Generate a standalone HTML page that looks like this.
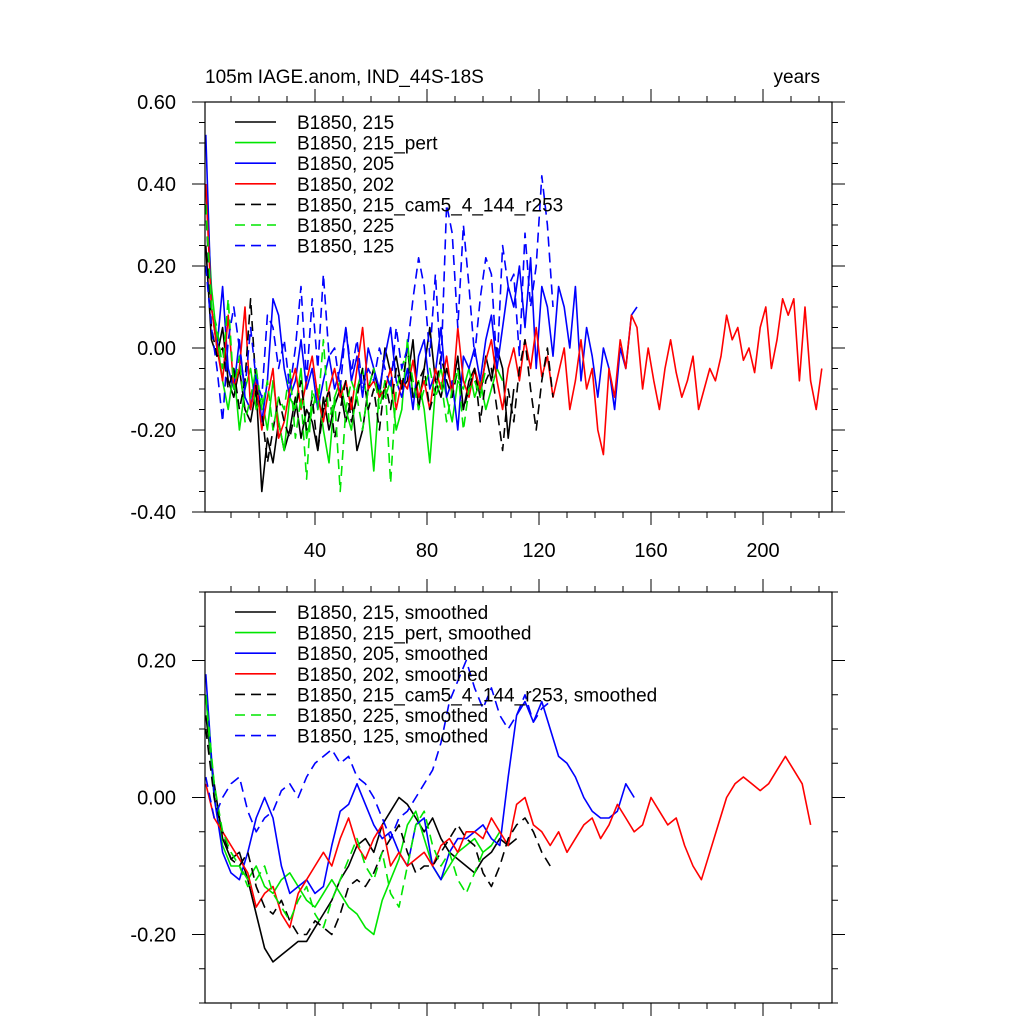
<!DOCTYPE html>
<html><head><meta charset="utf-8"><style>
body{margin:0;background:#fff}
svg text{font-family:"Liberation Sans",sans-serif;fill:#000}
</style></head><body>
<svg id="c" width="1024" height="1024" viewBox="0 0 1024 1024">
<text x="205" y="83" font-size="19">105m IAGE.anom, IND_44S-18S</text>
<text x="820" y="83" font-size="19" text-anchor="end">years</text>
</svg>
<script>
// ---- data: top panel (annual anomalies, sampled every 2 years) ----
const topStep = 2;
const topBlack = [0.25,0.02,-0.02,0.05,-0.08,-0.12,-0.05,-0.15,-0.18,-0.1,-0.35,-0.22,-0.28,-0.18,-0.25,-0.2,-0.12,-0.22,-0.15,-0.18,-0.25,-0.12,-0.2,-0.14,-0.1,-0.18,-0.12,-0.25,-0.2,-0.1,-0.05,-0.12,0.0,-0.06,-0.02,-0.1,-0.08,0.02,-0.15,-0.05,0.05,-0.08,-0.12,-0.05,-0.1,-0.02,-0.15,-0.08,-0.05,-0.12,-0.02,-0.08,0.0,-0.05,-0.22,-0.1];
const topGreen = [0.4,0.15,0.02,-0.08,-0.15,-0.05,-0.2,-0.1,-0.05,-0.15,-0.12,-0.2,-0.08,-0.18,-0.25,-0.12,-0.15,-0.05,-0.22,-0.15,-0.1,-0.2,-0.28,-0.12,-0.08,-0.15,-0.2,-0.1,-0.05,-0.15,-0.3,-0.1,-0.12,-0.08,-0.2,-0.15,0.02,-0.12,-0.08,-0.15,-0.28,-0.1,-0.05,-0.12,-0.18,-0.08,-0.1,-0.05,-0.12,-0.08,-0.15,-0.1,-0.05,-0.08];
const topBlue = [0.52,0.1,0.0,0.15,-0.05,-0.1,0.02,-0.12,-0.15,-0.05,-0.18,-0.08,0.12,0.08,-0.05,-0.12,-0.08,0.02,-0.1,-0.05,-0.15,-0.08,-0.02,-0.1,-0.05,0.05,-0.08,-0.02,-0.12,0.0,-0.05,-0.1,-0.02,0.05,-0.08,-0.12,-0.05,-0.15,-0.02,0.02,-0.1,-0.06,0.05,-0.12,-0.08,-0.2,-0.02,-0.05,0.0,-0.08,0.02,0.08,-0.05,0.05,0.15,0.1,0.2,0.05,0.22,-0.05,0.15,0.1,-0.02,0.15,0.1,0.0,0.15,-0.08,0.05,-0.02,-0.12,0.0,-0.05,-0.15,0.0,-0.05,0.08,0.1];
const topRed = [0.4,0.1,0.0,-0.08,0.08,-0.1,-0.05,0.1,-0.15,-0.08,-0.2,-0.12,-0.05,-0.22,-0.18,-0.1,-0.05,-0.15,-0.08,-0.02,-0.12,-0.18,-0.1,-0.05,-0.12,-0.08,-0.15,-0.05,0.05,-0.1,-0.08,-0.12,-0.1,-0.05,-0.15,-0.08,-0.1,-0.03,-0.12,-0.08,-0.15,-0.05,-0.1,-0.02,-0.12,0.05,-0.08,-0.12,-0.05,-0.1,-0.03,0.02,-0.08,-0.15,-0.05,0.0,-0.08,0.02,-0.05,0.05,-0.07,-0.02,-0.12,-0.06,0.0,-0.15,-0.08,0.02,-0.1,-0.05,-0.2,-0.26,-0.05,-0.12,0.02,-0.05,0.08,0.05,-0.1,0.0,-0.08,-0.15,-0.05,0.02,-0.06,-0.12,-0.08,-0.02,-0.15,-0.1,-0.05,-0.08,-0.02,0.08,0.02,0.05,-0.03,0.0,-0.06,0.05,0.1,-0.05,0.02,0.12,0.08,0.12,-0.08,0.1,-0.08,-0.15,-0.05];
const topBlackD = [0.35,0.05,-0.02,0.0,-0.1,-0.05,-0.15,-0.08,0.12,-0.1,-0.15,-0.28,-0.2,-0.12,-0.18,-0.22,-0.15,-0.08,-0.2,-0.12,-0.25,-0.15,-0.1,-0.22,-0.15,-0.08,-0.18,-0.12,-0.05,-0.15,-0.1,-0.2,-0.08,-0.15,-0.05,-0.1,0.0,-0.12,-0.08,-0.05,-0.15,-0.1,-0.02,-0.08,-0.12,-0.05,-0.15,-0.1,-0.05,-0.18,-0.08,-0.05,-0.15,-0.25,-0.1,-0.18,-0.05,0.02,-0.1,-0.2,-0.08,0.0,-0.12];
const topGreenD = [0.35,0.1,0.05,-0.05,0.12,-0.1,-0.02,-0.18,-0.12,-0.05,-0.15,-0.08,-0.2,-0.12,-0.15,-0.05,-0.22,-0.12,-0.32,-0.1,-0.15,0.02,-0.18,-0.12,-0.35,-0.15,-0.08,-0.12,-0.2,-0.1,-0.05,-0.15,-0.08,-0.33,-0.1,-0.05,0.0,-0.08,-0.15,-0.1,-0.05,-0.12,-0.08,-0.18,-0.1,-0.05,-0.2,-0.1,-0.08,-0.12,-0.05];
const topBlueD = [0.2,0.05,-0.05,-0.18,0.02,0.1,0.0,-0.1,0.05,-0.08,-0.12,0.08,0.05,-0.05,0.02,-0.1,0.0,0.15,-0.08,0.12,-0.05,0.18,-0.02,0.0,-0.1,0.05,-0.06,0.02,-0.1,-0.05,-0.08,0.0,-0.05,-0.1,0.05,-0.05,0.0,0.12,0.22,0.15,-0.02,0.18,-0.05,0.35,0.28,0.05,0.3,0.15,-0.02,0.12,0.22,0.18,-0.05,0.25,0.15,0.18,-0.02,0.28,0.1,0.2,0.42,0.3,0.1];
// ---- data: bottom panel (smoothed, sampled every 3 years) ----
const botStep = 3;
const botBlack = [0.12,0.02,-0.06,-0.09,-0.08,-0.12,-0.17,-0.22,-0.24,-0.23,-0.22,-0.21,-0.21,-0.19,-0.17,-0.15,-0.12,-0.1,-0.07,-0.06,-0.08,-0.04,-0.02,0.0,-0.01,-0.03,-0.05,-0.03,-0.06,-0.08,-0.09,-0.1,-0.11,-0.09,-0.08,-0.06,-0.07,-0.06];
const botGreen = [0.15,0.0,-0.07,-0.1,-0.1,-0.12,-0.1,-0.13,-0.14,-0.12,-0.11,-0.13,-0.15,-0.16,-0.14,-0.12,-0.14,-0.16,-0.17,-0.19,-0.2,-0.15,-0.12,-0.09,-0.04,-0.02,-0.06,-0.1,-0.12,-0.1,-0.08,-0.07,-0.06,-0.08,-0.07,-0.05];
const botBlue = [0.18,0.0,-0.08,-0.11,-0.12,-0.08,-0.03,0.0,-0.03,-0.1,-0.14,-0.13,-0.12,-0.14,-0.13,-0.07,-0.02,-0.01,0.02,-0.01,-0.04,-0.06,-0.05,-0.08,-0.1,-0.04,-0.03,-0.1,-0.12,-0.08,-0.06,-0.06,-0.05,-0.04,-0.06,-0.07,0.03,0.12,0.14,0.11,0.14,0.1,0.06,0.05,0.03,0.0,-0.02,-0.03,-0.03,-0.02,0.02,0.0];
const botRed = [0.02,-0.03,-0.05,-0.07,-0.09,-0.11,-0.16,-0.14,-0.13,-0.17,-0.19,-0.14,-0.12,-0.1,-0.08,-0.1,-0.06,-0.03,-0.07,-0.09,-0.06,-0.04,-0.1,-0.08,-0.1,-0.09,-0.08,-0.1,-0.07,-0.06,-0.08,-0.05,-0.05,-0.06,-0.03,-0.05,-0.07,-0.01,0.0,-0.04,-0.05,-0.07,-0.05,-0.08,-0.06,-0.04,-0.03,-0.06,-0.04,-0.01,-0.03,-0.05,-0.04,0.0,-0.02,-0.04,-0.03,-0.07,-0.1,-0.12,-0.08,-0.04,0.0,0.02,0.03,0.02,0.01,0.02,0.04,0.06,0.04,0.02,-0.04];
const botBlackD = [0.1,0.0,-0.05,-0.09,-0.1,-0.08,-0.13,-0.16,-0.17,-0.15,-0.18,-0.2,-0.2,-0.18,-0.19,-0.2,-0.17,-0.13,-0.12,-0.13,-0.11,-0.08,-0.06,-0.04,-0.08,-0.11,-0.1,-0.1,-0.08,-0.06,-0.04,-0.06,-0.07,-0.11,-0.13,-0.1,-0.06,-0.04,-0.03,-0.05,-0.08,-0.1];
const botGreenD = [0.15,0.02,-0.05,-0.08,-0.1,-0.13,-0.12,-0.1,-0.14,-0.16,-0.18,-0.15,-0.13,-0.17,-0.19,-0.15,-0.12,-0.09,-0.06,-0.1,-0.12,-0.08,-0.14,-0.16,-0.1,-0.04,-0.02,-0.07,-0.1,-0.08,-0.12,-0.14,-0.11,-0.08,-0.07];
const botBlueD = [0.03,-0.03,0.0,0.02,0.03,-0.02,-0.05,-0.03,-0.02,0.01,0.02,0.0,0.03,0.05,0.06,0.07,0.05,0.06,0.03,0.02,0.0,-0.03,-0.06,-0.03,-0.02,0.0,0.02,0.04,0.08,0.14,0.17,0.2,0.16,0.13,0.16,0.12,0.1,0.12,0.15,0.11,0.13,0.14];
// ---- ticks & labels ----
const xTickLabels = [40,80,120,160,200];
const topYTicks = [0.6,0.4,0.2,0.0,-0.2,-0.4];
const botYTicks = [0.2,0.0,-0.2];
const topLegend = ["B1850, 215","B1850, 215_pert","B1850, 205","B1850, 202","B1850, 215_cam5_4_144_r253","B1850, 225","B1850, 125"];
const botLegend = ["B1850, 215, smoothed","B1850, 215_pert, smoothed","B1850, 205, smoothed","B1850, 202, smoothed","B1850, 215_cam5_4_144_r253, smoothed","B1850, 225, smoothed","B1850, 125, smoothed"];

const svg = document.getElementById('c');
const NS = 'http://www.w3.org/2000/svg';
const colors = ['#000','#00e600','#0000ff','#ff0000','#000','#00e600','#0000ff'];
const dashes = [null,null,null,null,'10 6','10 6','10 6'];
const L = 205, R = 832;
const xs = v => 203 + v * 2.8;
function mk(tag, attrs, parent){const e=document.createElementNS(NS,tag);for(const k in attrs)e.setAttribute(k,attrs[k]);(parent||svg).appendChild(e);return e;}

function panel(name, top, bot, yMin, yMax, yTicks, series, step, legend, showX){
  const ys = v => bot - (v - yMin) / (yMax - yMin) * (bot - top);
  const g = mk('g', {});
  
  
  const clipId = name + '-clip';
  const cp = mk('clipPath', {id: clipId}, g);
  mk('rect', {x: L, y: top, width: R - L, height: bot - top}, cp);
  const lines = mk('g', {'clip-path': 'url(#' + clipId + ')'}, g);
  series.forEach((arr, si) => {
    const pts = arr.map((v, i) => xs(1 + i * step).toFixed(1) + ',' + ys(v).toFixed(1)).join(' ');
    const p = mk('polyline', {points: pts, fill: 'none', stroke: colors[si], 'stroke-width': 1.6, 'stroke-linejoin': 'round'}, lines);
    if (dashes[si]) p.setAttribute('stroke-dasharray', dashes[si]);
    
    
  });
  const frame = mk('rect', {x: L, y: top, width: R - L, height: bot - top, fill: 'none', stroke: '#000', 'stroke-width': 1.2}, g);
  
  
  for (let yr = 10; yr <= 220; yr += 10) {
    const x = xs(yr), len = (yr % 40 === 0) ? 13 : 6;
    mk('line', {x1: x, x2: x, y1: top, y2: top - len, stroke: '#000', 'stroke-width': 1}, g);
    mk('line', {x1: x, x2: x, y1: bot, y2: bot + len, stroke: '#000', 'stroke-width': 1}, g);
  }
  if (showX) xTickLabels.forEach(v => {
    const t = mk('text', {x: xs(v), y: bot + 45, 'font-size': 20, 'text-anchor': 'middle'}, g);
    t.textContent = v;
    
    
  });
  for (let v = Math.ceil(yMin * 20) / 20; v <= yMax + 1e-9; v += 0.05) {
    const y = ys(v);
    const major = yTicks.some(t => Math.abs(t - v) < 1e-6);
    const len = major ? 13 : 6;
    mk('line', {x1: L, x2: L - len, y1: y, y2: y, stroke: '#000', 'stroke-width': 1}, g);
    mk('line', {x1: R, x2: R + len, y1: y, y2: y, stroke: '#000', 'stroke-width': 1}, g);
  }
  yTicks.forEach(v => {
    const t = mk('text', {x: 176, y: ys(v) + 7, 'font-size': 20, 'text-anchor': 'end'}, g);
    t.textContent = v.toFixed(2);
    
    
  });
  legend.forEach((lab, i) => {
    const y = top + 20 + i * 20.6;
    const ln = mk('line', {x1: 235, x2: 276, y1: y, y2: y, stroke: colors[i], 'stroke-width': 1.6}, g);
    if (dashes[i]) ln.setAttribute('stroke-dasharray', '10 6');
    const t = mk('text', {x: 297, y: y + 7, 'font-size': 19}, g);
    t.textContent = lab;
    
    
  });
}
panel('top-panel', 102, 512, -0.4, 0.6, topYTicks, [topBlack, topGreen, topBlue, topRed, topBlackD, topGreenD, topBlueD], topStep, topLegend, true);
panel('bottom-panel', 592, 1003, -0.3, 0.3, botYTicks, [botBlack, botGreen, botBlue, botRed, botBlackD, botGreenD, botBlueD], botStep, botLegend, false);
</script>
</body></html>
